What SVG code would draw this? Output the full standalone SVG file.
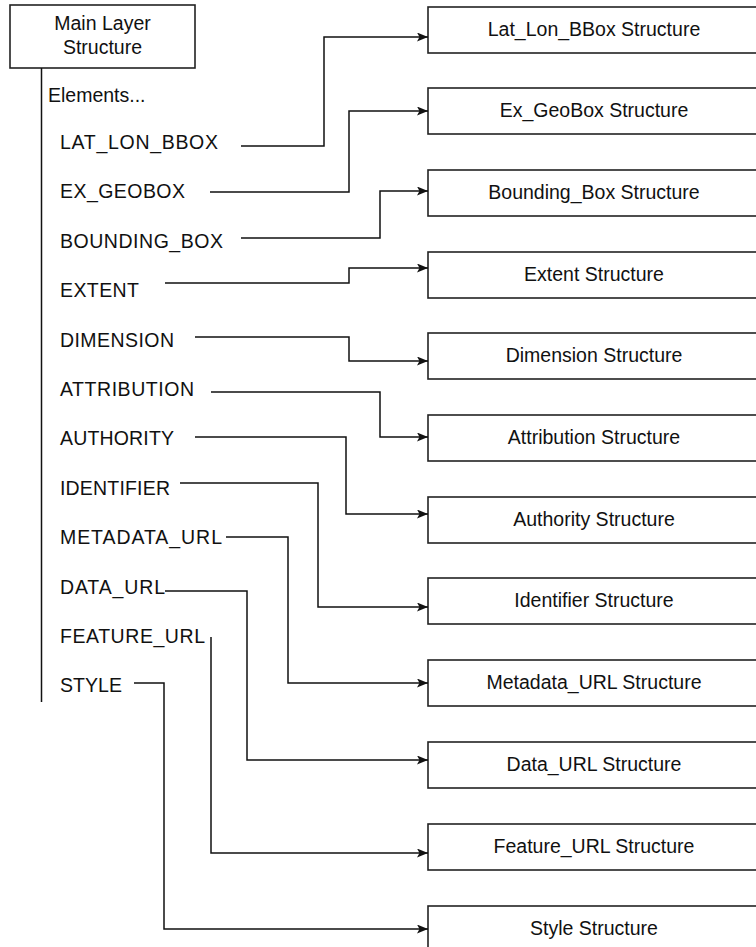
<svg xmlns="http://www.w3.org/2000/svg" width="756" height="947" viewBox="0 0 756 947">
<style>
text{font-family:"Liberation Sans",Arial,sans-serif;font-size:19.5px;fill:#111}
.box{fill:#fff;stroke:#222;stroke-width:1.6}
.c{text-anchor:middle}
.ln{fill:none;stroke:#111;stroke-width:1.5}
.ar{fill:none;stroke:#111;stroke-width:1.5;marker-end:url(#ah)}
</style>
<defs>
<marker id="ah" markerUnits="userSpaceOnUse" markerWidth="12" markerHeight="10" refX="11" refY="4.5" orient="auto">
<path d="M0,0 L11,4.5 L0,9 L2.5,4.5 z" fill="#111"/>
</marker>
</defs>
<rect width="756" height="947" fill="#fff"/>
<g id="main">
<rect class="box" x="10" y="5" width="185" height="63"/>
<text class="c" x="102.5" y="30">Main Layer</text>
<text class="c" x="102.5" y="54">Structure</text>
<line class="ln" x1="41.5" y1="68" x2="41.5" y2="702"/>
<text x="48" y="101.5">Elements...</text>
</g>
<g id="labels">
<text x="60" y="149" textLength="158">LAT_LON_BBOX</text>
<text x="60" y="198.4" textLength="125">EX_GEOBOX</text>
<text x="60" y="247.8" textLength="163">BOUNDING_BOX</text>
<text x="60" y="297.2" textLength="79">EXTENT</text>
<text x="60" y="346.6" textLength="114">DIMENSION</text>
<text x="60" y="396" textLength="134">ATTRIBUTION</text>
<text x="60" y="445.4" textLength="114">AUTHORITY</text>
<text x="60" y="494.8" textLength="110">IDENTIFIER</text>
<text x="60" y="544.2" textLength="162">METADATA_URL</text>
<text x="60" y="593.6" textLength="105">DATA_URL</text>
<text x="60" y="643" textLength="145">FEATURE_URL</text>
<text x="60" y="692.4" textLength="62">STYLE</text>
</g>
<g id="n1"><rect class="box" x="428" y="7" width="340" height="46"/><text class="c" x="594" y="36">Lat_Lon_BBox Structure</text></g>
<g id="n2"><rect class="box" x="428" y="88" width="340" height="46"/><text class="c" x="594" y="117">Ex_GeoBox Structure</text></g>
<g id="n3"><rect class="box" x="428" y="170" width="340" height="46"/><text class="c" x="594" y="199">Bounding_Box Structure</text></g>
<g id="n4"><rect class="box" x="428" y="252" width="340" height="46"/><text class="c" x="594" y="281">Extent Structure</text></g>
<g id="n5"><rect class="box" x="428" y="333" width="340" height="46"/><text class="c" x="594" y="362">Dimension Structure</text></g>
<g id="n6"><rect class="box" x="428" y="415" width="340" height="46"/><text class="c" x="594" y="444">Attribution Structure</text></g>
<g id="n7"><rect class="box" x="428" y="497" width="340" height="46"/><text class="c" x="594" y="526">Authority Structure</text></g>
<g id="n8"><rect class="box" x="428" y="578" width="340" height="46"/><text class="c" x="594" y="607">Identifier Structure</text></g>
<g id="n9"><rect class="box" x="428" y="660" width="340" height="46"/><text class="c" x="594" y="689">Metadata_URL Structure</text></g>
<g id="n10"><rect class="box" x="428" y="742" width="340" height="46"/><text class="c" x="594" y="771">Data_URL Structure</text></g>
<g id="n11"><rect class="box" x="428" y="824" width="340" height="46"/><text class="c" x="594" y="853">Feature_URL Structure</text></g>
<g id="n12"><rect class="box" x="428" y="906" width="340" height="46"/><text class="c" x="594" y="935">Style Structure</text></g>
<g id="connectors">
<polyline class="ar" points="241,146 324,146 324,37 428,37"/>
<polyline class="ar" points="210,192 349,192 349,111 428,111"/>
<polyline class="ar" points="241,238 380,238 380,191 428,191"/>
<polyline class="ar" points="165,283 349,283 349,268 428,268"/>
<polyline class="ar" points="195,337 349,337 349,361 428,361"/>
<polyline class="ar" points="211,392 380,392 380,437 428,437"/>
<polyline class="ar" points="195,437 346,437 346,514 428,514"/>
<polyline class="ar" points="180,483 318,483 318,607 428,607"/>
<polyline class="ar" points="226,537 288,537 288,683 428,683"/>
<polyline class="ar" points="165,591 247,591 247,760 428,760"/>
<polyline class="ar" points="211,637 211,853 428,853"/>
<polyline class="ar" points="134,683 164,683 164,929 428,929"/>
</g>
</svg>
